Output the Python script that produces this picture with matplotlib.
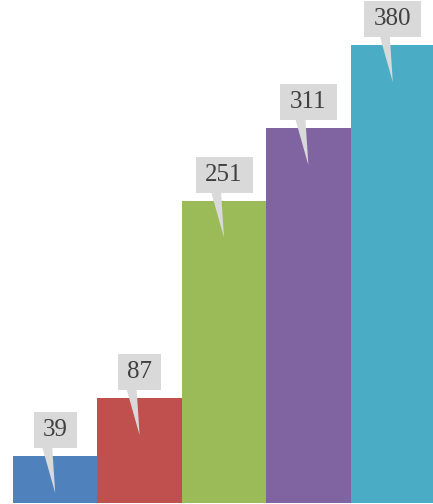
import matplotlib.pyplot as plt
from matplotlib.patches import Polygon, Rectangle
from matplotlib.transforms import IdentityTransform

# ── data ──────────────────────────────────────────────────────────────────────
values = [39, 87, 251, 311, 380]
colors = ["#4F81BD", "#C0504D", "#9BBB59", "#8064A2", "#4BACC6"]
labels = [str(v) for v in values]

BOX_FACE = "#D9D9D9"
TEXT_COLOR = "#404040"

# ── figure ────────────────────────────────────────────────────────────────────
W, H = 433, 504
fig = plt.figure(figsize=(W / 100, H / 100), dpi=100)
ax = fig.add_axes([13 / W, 1 / H, 422 / W, 503 / H])
ax.bar(range(len(values)), values, width=1.0, color=colors)
ax.set_xlim(-0.5, len(values) - 0.5)
ax.set_ylim(0, 417.4)
ax.axis("off")

# ── callouts (drawn in pixel space) ──────────────────────────────────────────
fig.canvas.draw()
for i, (v, lbl) in enumerate(zip(values, labels)):
    cx, top = ax.transData.transform((i, v))
    bw = 43 if len(lbl) == 2 else 57
    bh = 36
    b_bottom = top + 8
    pointer = Polygon([(cx - 13, b_bottom + 1), (cx - 3, b_bottom + 1), (cx, top - 37)],
                      closed=True, facecolor=BOX_FACE, edgecolor="none",
                      transform=IdentityTransform(), zorder=4)
    box = Rectangle((cx - bw / 2, b_bottom), bw, bh, facecolor=BOX_FACE,
                    edgecolor="none", transform=IdentityTransform(), zorder=5)
    fig.patches.extend([pointer, box])
    fig.text(cx / W, (b_bottom + bh / 2) / H, lbl, ha="center", va="center",
             fontsize=18, family="Liberation Serif", color=TEXT_COLOR, zorder=6)

fig.savefig("out.png", dpi=100)
